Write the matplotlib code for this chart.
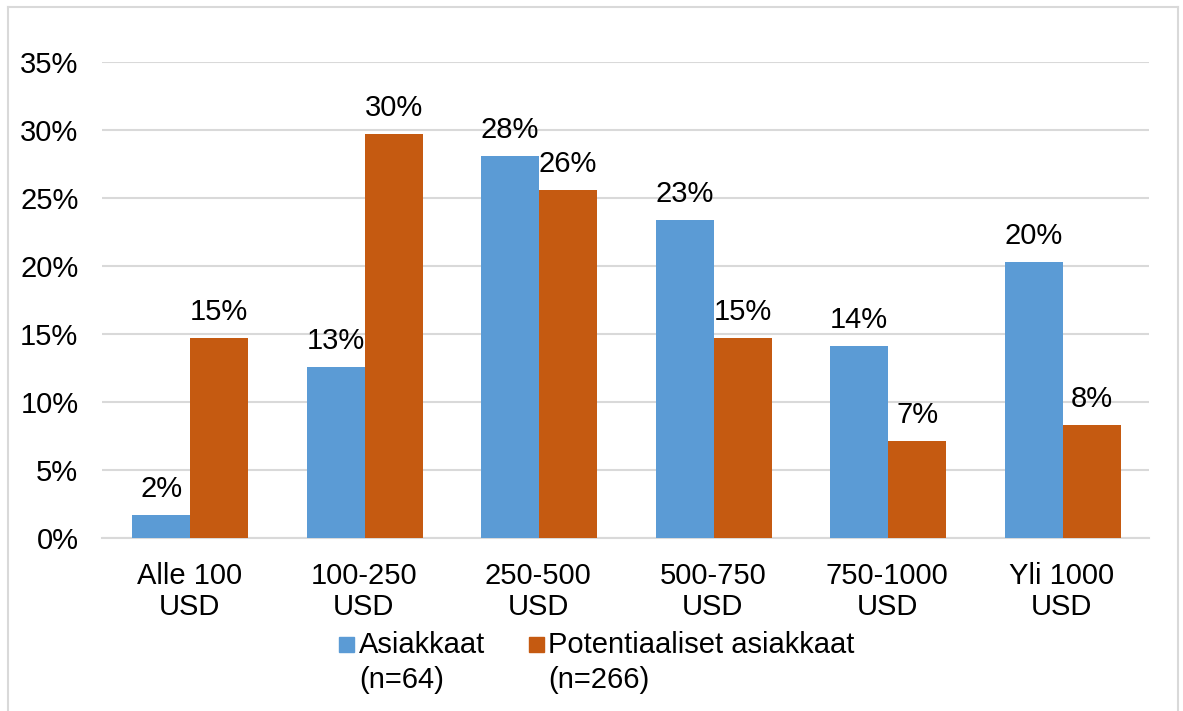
import matplotlib
matplotlib.use("Agg")
import matplotlib.pyplot as plt
import numpy as np
from matplotlib.patches import Rectangle
from matplotlib.lines import Line2D

plt.rcParams['font.family'] = ['Liberation Sans', 'DejaVu Sans']

categories = ["Alle 100\nUSD", "100-250\nUSD", "250-500\nUSD", "500-750\nUSD", "750-1000\nUSD", "Yli 1000\nUSD"]
asiakkaat = [1.7, 12.6, 28.1, 23.4, 14.1, 20.3]
potentiaaliset = [14.7, 29.7, 25.6, 14.7, 7.1, 8.3]
series_names = ["Asiakkaat\n(n=64)", "Potentiaaliset asiakkaat\n(n=266)"]
yticks = [0, 5, 10, 15, 20, 25, 30, 35]

blue = "#5B9BD5"
orange = "#C55A11"

W, H = 1183, 711
fig = plt.figure(figsize=(W / 100, H / 100), dpi=100)
ax = fig.add_axes([102 / W, 1 - 538 / H, (1149 - 102) / W, (538 - 62) / H])

x = np.arange(len(categories))
bw = 0.332
b1 = ax.bar(x - bw / 2 + 0.005, asiakkaat, bw, color=blue, zorder=3)
b2 = ax.bar(x + bw / 2 + 0.005, potentiaaliset, bw, color=orange, zorder=3)

FS = 21
for bars, vals in ((b1, asiakkaat), (b2, potentiaaliset)):
    for rect, v in zip(bars, vals):
        ax.annotate(f"{int(v + 0.5):d}%", (rect.get_x() + rect.get_width() / 2, v),
                    xytext=(0, 13), textcoords="offset points",
                    ha="center", va="baseline", fontsize=FS, color="#000000")

ax.set_xlim(-0.5, len(categories) - 0.5)
ax.set_ylim(0, 35)
ax.set_yticks(yticks)
ax.set_yticklabels([f"{t}%" for t in yticks])
ax.set_xticks(x)
ax.set_xticklabels(categories, linespacing=1.15)
ax.tick_params(axis="both", length=0, labelsize=FS, colors="#000000")
ax.tick_params(axis="y", pad=17)
ax.tick_params(axis="x", pad=17)
ax.yaxis.grid(True, color="#D9D9D9", linewidth=1.5, zorder=0)
ax.set_axisbelow(True)
for s in ("top", "right", "left"):
    ax.spines[s].set_visible(False)
ax.spines["bottom"].set_color("#D9D9D9")
ax.spines["bottom"].set_linewidth(1.5)

# Legend (manual)
def fx(px):
    return px / W

def fy(py):
    return 1 - py / H

for sq_x, txt_x, color, name in ((339, 359, blue, series_names[0]), (529, 548, orange, series_names[1])):
    fig.patches.append(Rectangle((fx(sq_x), fy(652)), fx(15), 15 / H,
                                 transform=fig.transFigure, color=color))
    fig.text(fx(txt_x), fy(631), name, ha="left", va="top", fontsize=FS,
             linespacing=1.3, color="#000000")

# Outer border
bc = "#D9D9D9"
fig.add_artist(Line2D([fx(8), fx(8)], [fy(7), 0], transform=fig.transFigure, color=bc, lw=1.5))
fig.add_artist(Line2D([fx(8), fx(1178)], [fy(7), fy(7)], transform=fig.transFigure, color=bc, lw=1.5))
fig.add_artist(Line2D([fx(1178), fx(1178)], [fy(7), 0], transform=fig.transFigure, color=bc, lw=1.5))

fig.savefig("out.png", dpi=100, facecolor="white")
